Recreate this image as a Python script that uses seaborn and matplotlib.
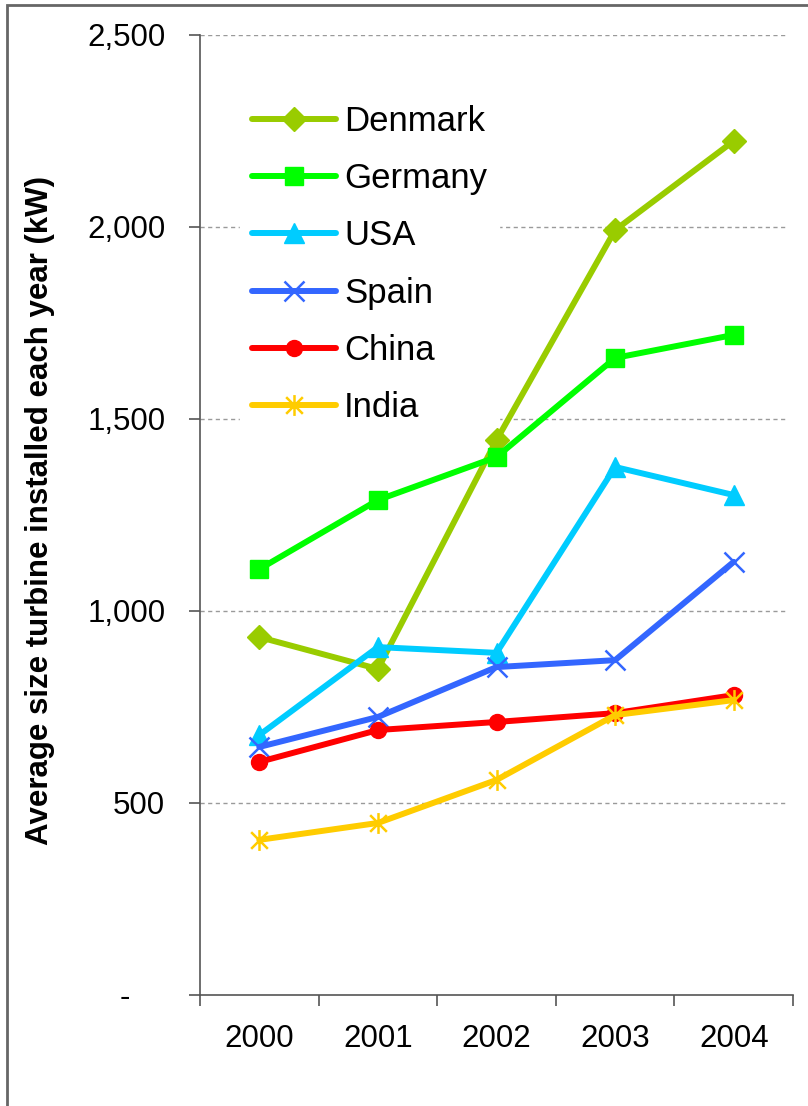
import numpy as np
import pandas as pd
import matplotlib
matplotlib.use("Agg")
import matplotlib.pyplot as plt
import seaborn as sns
from matplotlib.path import Path
from matplotlib.patches import Rectangle

years = ["2000", "2001", "2002", "2003", "2004"]
countries = ["Denmark", "Germany", "USA", "Spain", "China", "India"]
denmark = [932, 849, 1445, 1992, 2224]
germany = [1109, 1289, 1401, 1659, 1719]
usa = [677, 906, 891, 1375, 1302]
spain = [646, 724, 854, 872, 1128]
china = [607, 690, 711, 734, 781]
india = [404, 448, 560, 729, 768]
series = [denmark, germany, usa, spain, china, india]
colors = ["#99CC00", "#00FF00", "#00CCFF", "#3366FF", "#FF0000", "#FFCC00"]
yticks = [0, 500, 1000, 1500, 2000, 2500]
ytick_labels = ["-    ", "500", "1,000", "1,500", "2,000", "2,500"]

star = Path([(0, -1), (0, 1), (-0.8, -0.8), (0.8, 0.8), (-0.8, 0.8), (0.8, -0.8)],
            [Path.MOVETO, Path.LINETO, Path.MOVETO, Path.LINETO, Path.MOVETO, Path.LINETO])
markers = ["D", "s", "^", "x", "o", star]
msizes = [12.5, 13, 14, 15, 11.5, 15]
mew = [1, 1, 1, 1.8, 1, 1.8]

sns.set_theme(style="white")
plt.rcParams["font.family"] = ["Liberation Sans", "DejaVu Sans"]

fig = plt.figure(figsize=(8.08, 11.06), dpi=100)
ax = fig.add_axes([200 / 808, 1 - 995 / 1106, 593 / 808, 960 / 1106])

pos = np.arange(len(years))
for name, vals, c, m, ms, ew in zip(countries, series, colors, markers, msizes, mew):
    df = pd.DataFrame({"x": pos, "y": vals})
    sns.lineplot(data=df, x="x", y="y", ax=ax, color=c, linewidth=4.3,
                 marker=m, markersize=ms, markeredgecolor=c, markerfacecolor=c,
                 markeredgewidth=ew, label=name, zorder=3)

ax.set_xlim(-0.5, len(years) - 0.5)
ax.set_ylim(0, 2500)
ax.set_yticks(yticks)
ax.set_yticklabels(ytick_labels)
ax.set_xticks(pos)
ax.set_xticklabels(years)
ax.set_xticks(np.arange(-0.5, len(years)), minor=True)
ax.tick_params(axis="x", which="major", length=0, pad=21, labelsize=22.5, colors="black")
ax.tick_params(axis="x", which="minor", length=8, width=1.2, color="#555555", direction="out", bottom=True)
ax.tick_params(axis="y", which="major", length=8, width=1.2, color="#555555", direction="out",
               left=True, pad=17, labelsize=22.5, labelcolor="black")
ax.set_xlabel("")
ax.set_ylabel("Average size turbine installed each year (kW)", fontsize=22.5, fontweight="bold", color="black")
ax.yaxis.set_label_coords(-0.245, 0.505)

for y in yticks[1:]:
    ax.axhline(y, xmin=0, xmax=0.99, color="#9a9a9a", linestyle=(0, (3, 2.5)), linewidth=1.0, zorder=1)

for s in ["top", "right"]:
    ax.spines[s].set_visible(False)
for s in ["left", "bottom"]:
    ax.spines[s].set_color("#555555")
    ax.spines[s].set_linewidth(1.2)

leg = ax.legend(loc="upper left", bbox_to_anchor=(0.0675, 0.94), borderaxespad=0,
                frameon=True, facecolor="white", edgecolor="white", framealpha=1,
                fancybox=False, fontsize=25, handlelength=2.4, handletextpad=0.25,
                labelspacing=0.7, borderpad=0.35)
leg.set_zorder(2)
for t in leg.get_texts():
    t.set_color("black")

fig.patches.append(Rectangle((7 / 808, -0.01), 1.1, 1 - 5 / 1106 + 0.01, transform=fig.transFigure,
                             fill=False, edgecolor="#666666", linewidth=2))

fig.savefig("out.png", dpi=100)
